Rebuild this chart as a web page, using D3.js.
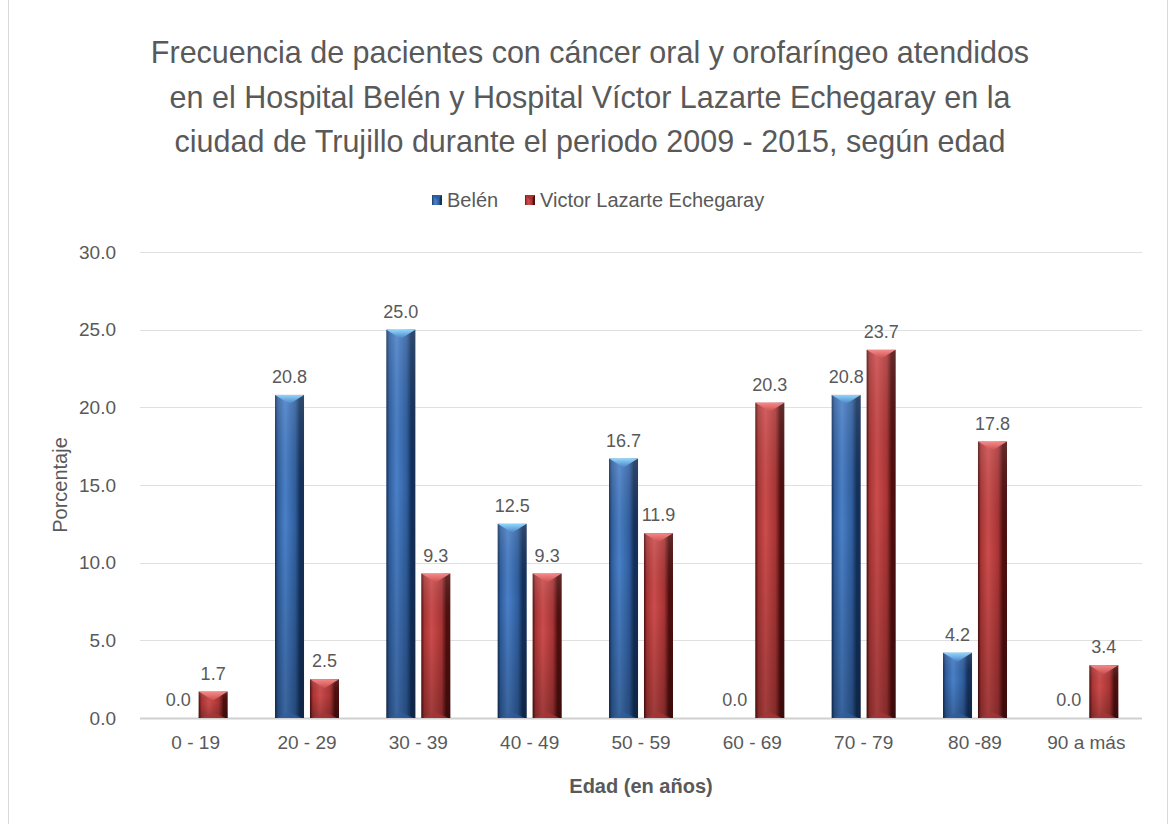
<!DOCTYPE html>
<html>
<head>
<meta charset="utf-8">
<script src="https://cdn.jsdelivr.net/npm/d3@7"></script>
<style>
  body { margin: 0; background: #fff; }
  svg { display: block; }
  text { font-family: "Liberation Sans", Arial, sans-serif; fill: #595959; }
</style>
</head>
<body>
<svg id="chart"></svg>
<script>
// data
const categories = ["0 - 19", "20 - 29", "30 - 39", "40 - 49", "50 - 59", "60 - 69", "70 - 79", "80 -89", "90 a más"];
const belen = [0.0, 20.8, 25.0, 12.5, 16.7, 0.0, 20.8, 4.2, 0.0];
const victor = [1.7, 2.5, 9.3, 9.3, 11.9, 20.3, 23.7, 17.8, 3.4];
const seriesNames = ["Belén", "Victor Lazarte Echegaray"];
const yTicks = [0, 5, 10, 15, 20, 25, 30];
const titleLines = [
    "Frecuencia de pacientes con cáncer oral y orofaríngeo atendidos",
    "en el Hospital Belén y Hospital Víctor Lazarte Echegaray en la",
    "ciudad de Trujillo durante el periodo 2009 - 2015, según edad"
];

const width = 1176, height = 824;
const margin = { top: 252, right: 34, bottom: 106, left: 140 };

const svg = d3.select("#chart").attr("width", width).attr("height", height);

// outer frame
svg.append("rect")
    .attr("x", 8.5).attr("y", -1).attr("width", 1159).attr("height", 830)
    .attr("fill", "none").attr("stroke", "#d9d9d9").attr("stroke-width", 1);

const x0 = d3.scaleBand()
    .domain(categories)
    .range([margin.left, width - margin.right]);

const x1 = d3.scaleBand()
    .domain([0, 1])
    .range([0, 64])
    .paddingInner(0.17);

const y = d3.scaleLinear()
    .domain([0, 30])
    .range([height - margin.bottom, margin.top]);

// gradients
const defs = svg.append("defs");
const colors = [
    { dark: "#14305a", mid: "#2f5e9e", light: "#4a80c8", tip: "#8fd6fa" },
    { dark: "#4e0e0e", mid: "#a83434", light: "#cc4c4c", tip: "#f58a8a" }
];
colors.forEach((c, i) => {
    const g = defs.append("linearGradient").attr("id", "body" + i)
        .attr("x1", "0").attr("x2", "1").attr("y1", "0").attr("y2", "0");
    g.append("stop").attr("offset", "0%").attr("stop-color", c.dark);
    g.append("stop").attr("offset", "10%").attr("stop-color", c.mid);
    g.append("stop").attr("offset", "35%").attr("stop-color", c.light);
    g.append("stop").attr("offset", "70%").attr("stop-color", c.mid);
    g.append("stop").attr("offset", "86%").attr("stop-color", c.dark);
    g.append("stop").attr("offset", "100%").attr("stop-color", c.dark);
    const t = defs.append("linearGradient").attr("id", "tip" + i)
        .attr("x1", "0").attr("x2", "0").attr("y1", "0").attr("y2", "1");
    t.append("stop").attr("offset", "0%").attr("stop-color", c.tip);
    t.append("stop").attr("offset", "100%").attr("stop-color", c.light);
});
// vertical shading overlay, darker toward the bottom
const shade = defs.append("linearGradient").attr("id", "shade")
    .attr("x1", "0").attr("x2", "0").attr("y1", "0").attr("y2", "1");
shade.append("stop").attr("offset", "0%").attr("stop-color", "#fff").attr("stop-opacity", 0.12);
shade.append("stop").attr("offset", "40%").attr("stop-color", "#000").attr("stop-opacity", 0);
shade.append("stop").attr("offset", "100%").attr("stop-color", "#000").attr("stop-opacity", 0.22);

// gridlines
svg.append("g")
    .selectAll("line")
    .data(yTicks)
    .join("line")
    .attr("x1", margin.left).attr("x2", width - margin.right)
    .attr("y1", d => Math.round(y(d)) + 0.5).attr("y2", d => Math.round(y(d)) + 0.5)
    .attr("stroke", d => d === 0 ? "#d0d0d0" : "#e0e0e0")
    .attr("stroke-width", d => d === 0 ? 2 : 1.2);

// y axis labels
const yAxis = svg.append("g")
    .attr("transform", `translate(${margin.left - 21},0)`)
    .call(d3.axisLeft(y).tickValues(yTicks).tickFormat(d3.format(".1f")).tickSize(0));
yAxis.select(".domain").remove();
yAxis.selectAll("text")
    .attr("font-size", 19)
    .attr("font-family", null)
    .attr("fill", "#595959");

// x axis labels
const xAxis = svg.append("g")
    .attr("transform", `translate(0,${height - margin.bottom + 14})`)
    .call(d3.axisBottom(x0).tickSize(0));
xAxis.select(".domain").remove();
xAxis.selectAll("text")
    .attr("font-size", 19)
    .attr("font-family", null)
    .attr("fill", "#595959");

// bars
const rows = categories.map((c, i) => ({ cat: c, values: [belen[i], victor[i]] }));
const bw = x1.bandwidth();

const groups = svg.append("g")
    .selectAll("g")
    .data(rows)
    .join("g")
    .attr("transform", d => `translate(${x0(d.cat) + (x0.bandwidth() - 64) / 2},0)`);

const bars = groups.selectAll("g")
    .data(d => d.values.map((v, s) => ({ v, s })))
    .join("g")
    .attr("transform", d => `translate(${x1(d.s)},0)`);

bars.filter(d => d.v > 0).each(function(d) {
    const g = d3.select(this);
    const top = y(d.v), bot = y(0);
    const h = bot - top;
    const tri = Math.min(h / 2, 9);
    g.append("rect")
        .attr("x", 0).attr("y", top).attr("width", bw).attr("height", h)
        .attr("fill", `url(#body${d.s})`);
    g.append("rect")
        .attr("x", 0).attr("y", top).attr("width", bw).attr("height", h)
        .attr("fill", "url(#shade)");
    // top bevel chevron
    g.append("path")
        .attr("d", `M0,${top}L${bw},${top}L${bw / 2},${top + tri}Z`)
        .attr("fill", `url(#tip${d.s})`);
    // bottom bevel
    g.append("path")
        .attr("d", `M2,${bot}L${bw - 2},${bot}L${bw / 2},${bot - Math.min(tri, 6)}Z`)
        .attr("fill", colors[d.s].mid).attr("opacity", 0.7);
});

// value labels
bars.append("text")
    .attr("x", bw / 2)
    .attr("y", d => y(d.v) - 12)
    .attr("text-anchor", "middle")
    .attr("font-size", 18)
    .attr("fill", "#404040")
    .text(d => d3.format(".1f")(d.v));

// title
svg.append("g")
    .selectAll("text")
    .data(titleLines)
    .join("text")
    .attr("x", 590)
    .attr("y", (d, i) => 63 + i * 44.5)
    .attr("text-anchor", "middle")
    .attr("font-size", 30.5)
    .attr("fill", "#595959")
    .text(d => d);

// legend
const legend = svg.append("g").attr("transform", "translate(432,200)");
const legendX = [0, 93];
seriesNames.forEach((name, i) => {
    const lg = legend.append("g").attr("transform", `translate(${legendX[i]},0)`);
    lg.append("rect").attr("x", 0).attr("y", -5).attr("width", 10).attr("height", 10)
        .attr("fill", `url(#body${i})`);
    lg.append("path").attr("d", "M0,-5L10,-5L5,0Z").attr("fill", colors[i].mid);
    lg.append("text").attr("x", 15).attr("y", 7)
        .attr("font-size", 20).attr("fill", "#595959").text(name);
});

// axis titles
svg.append("text")
    .attr("x", (margin.left + width - margin.right) / 2)
    .attr("y", 793)
    .attr("text-anchor", "middle")
    .attr("font-size", 20)
    .attr("font-weight", "bold")
    .attr("fill", "#595959")
    .text("Edad (en años)");

svg.append("text")
    .attr("transform", `translate(67,${485}) rotate(-90)`)
    .attr("text-anchor", "middle")
    .attr("font-size", 20)
    .attr("fill", "#595959")
    .text("Porcentaje");
</script>
</body>
</html>
